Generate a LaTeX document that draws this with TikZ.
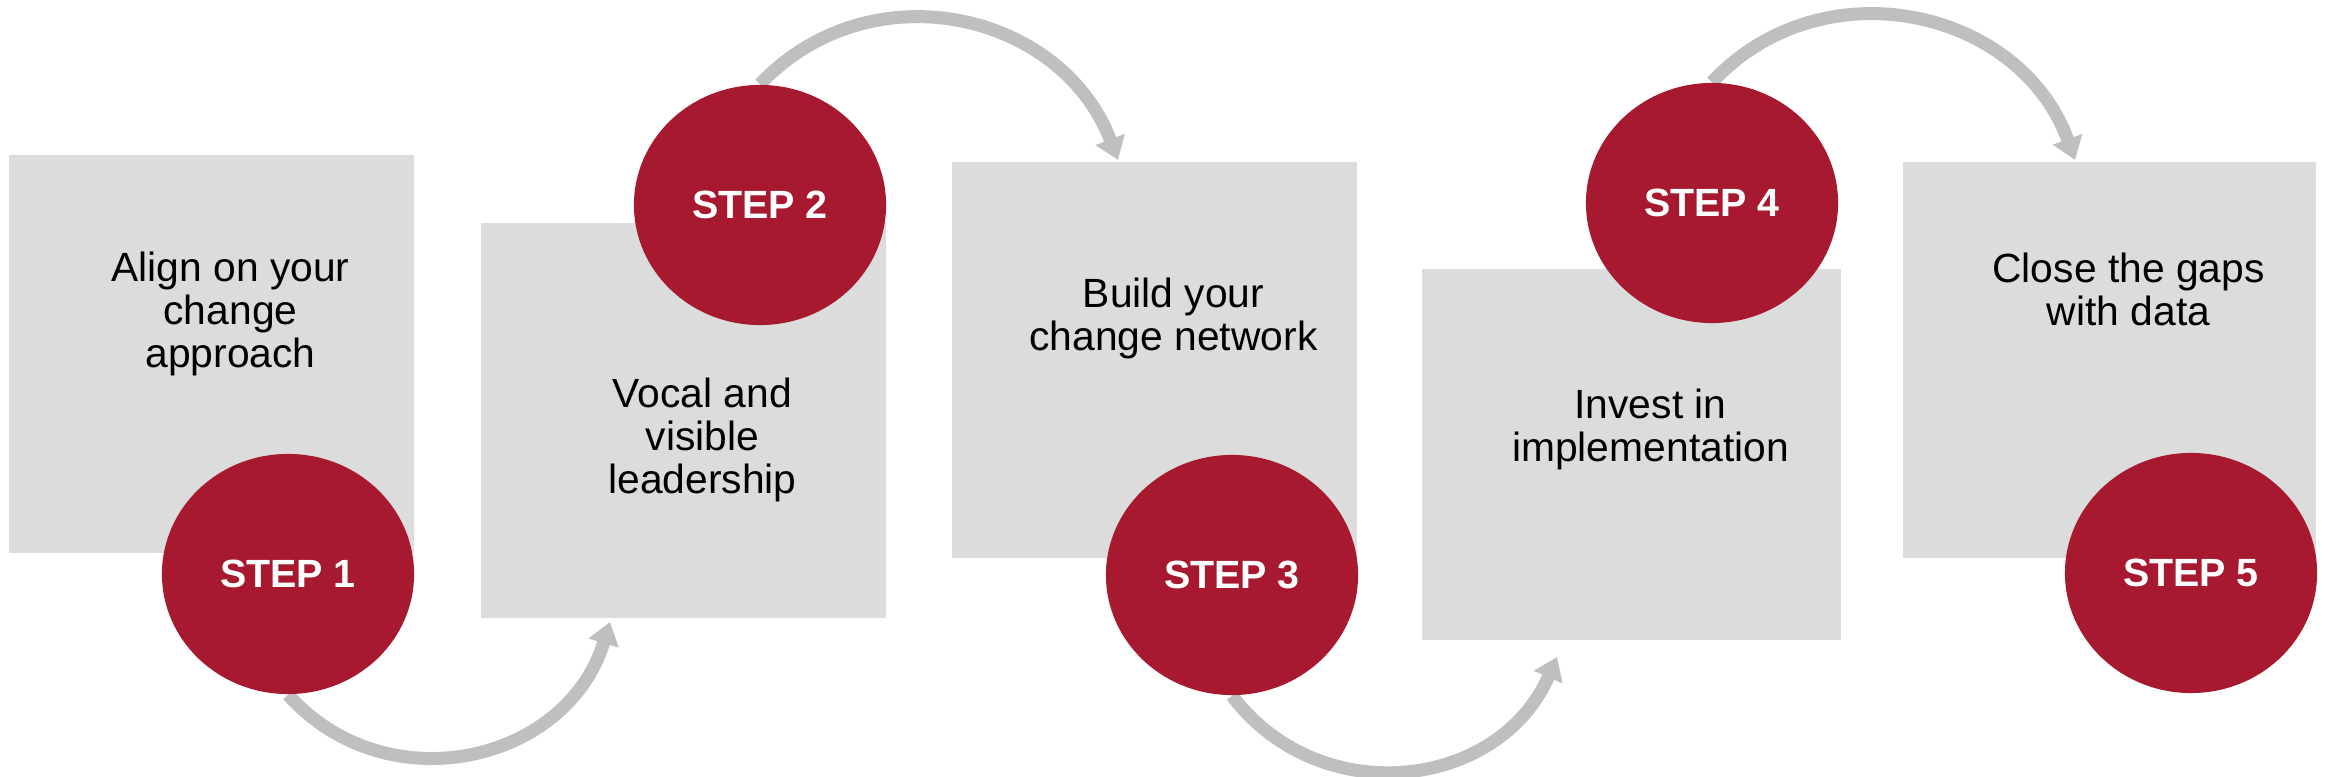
\documentclass[tikz,border=0pt]{standalone}
\usepackage{fontspec}
\setmainfont{Liberation Sans}
\usetikzlibrary{shapes.geometric,arrows.meta}
\definecolor{stepred}{HTML}{A6192E}
\definecolor{boxgrey}{HTML}{DCDCDC}
\definecolor{arrowgrey}{HTML}{BFBFBF}
\pgfdeclarelayer{back}
\pgfsetlayers{back,main}
\begin{document}
\begin{tikzpicture}[x=0.01cm,y=-0.01cm,
  panel/.style={fill=boxgrey, draw=none, inner sep=0pt, rectangle},
  label/.style={font=\fontsize{11.6pt}{12.25pt}\selectfont, align=center, inner sep=0pt, text=black},
  stepcircle/.style={ellipse, fill=stepred, draw=none, minimum width=25.2mm, minimum height=24mm, inner sep=0pt, text=white, font=\fontsize{11.2pt}{13pt}\selectfont\bfseries},
  flow/.style={draw=arrowgrey, line width=1.3mm, -{Triangle[width=3mm,length=2.2mm]}}]
\useasboundingbox (0,0) rectangle (2328,777);
% boxes
\node[panel, minimum width=40.5mm, minimum height=39.8mm] (b1) at (211.5,354) {};
\node[panel, minimum width=40.5mm, minimum height=39.5mm] (b2) at (683.5,420.5) {};
\node[panel, minimum width=40.5mm, minimum height=39.6mm] (b3) at (1154.5,360) {};
\node[panel, minimum width=41.9mm, minimum height=37.1mm] (b4) at (1631.5,454.5) {};
\node[panel, minimum width=41.3mm, minimum height=39.6mm] (b5) at (2109.5,360) {};
% texts
\node[label] (l1) at (230.5,314) {Align on your\\change\\approach};
\node[label] (l2) at (702.5,440) {Vocal and\\visible\\leadership};
\node[label] (l3) at (1173.5,318) {Build your\\change network};
\node[label] (l4) at (1650.5,429) {Invest in\\implementation};
\node[label] (l5) at (2128.5,289) {Close the gaps\\with data};
% circles
\node[stepcircle] (c1) at (288,574) {STEP 1};
\node[stepcircle] (c2) at (760,205) {STEP 2};
\node[stepcircle] (c3) at (1232,575) {STEP 3};
\node[stepcircle] (c4) at (1712,203) {STEP 4};
\node[stepcircle] (c5) at (2191,573) {STEP 5};
% arrow ends
\coordinate (t1) at (610,622);
\coordinate (t2) at (1118,160);
\coordinate (t3) at (1557,657);
\coordinate (t4) at (2075,160);
\begin{pgfonlayer}{back}
\fill[white] (0,0) rectangle (2328,777);
\draw[flow] (c1.south) .. controls +(99,110) and +(-43,141) .. (t1);
\draw[flow] (c2.north) .. controls +(110,-116) and +(-57,-149) .. (t2);
\draw[flow] (c3.south) .. controls +(88,116) and +(-58,133) .. (t3);
\draw[flow] (c4.north) .. controls +(110,-118) and +(-55,-152) .. (t4);
\end{pgfonlayer}
\end{tikzpicture}
\end{document}
